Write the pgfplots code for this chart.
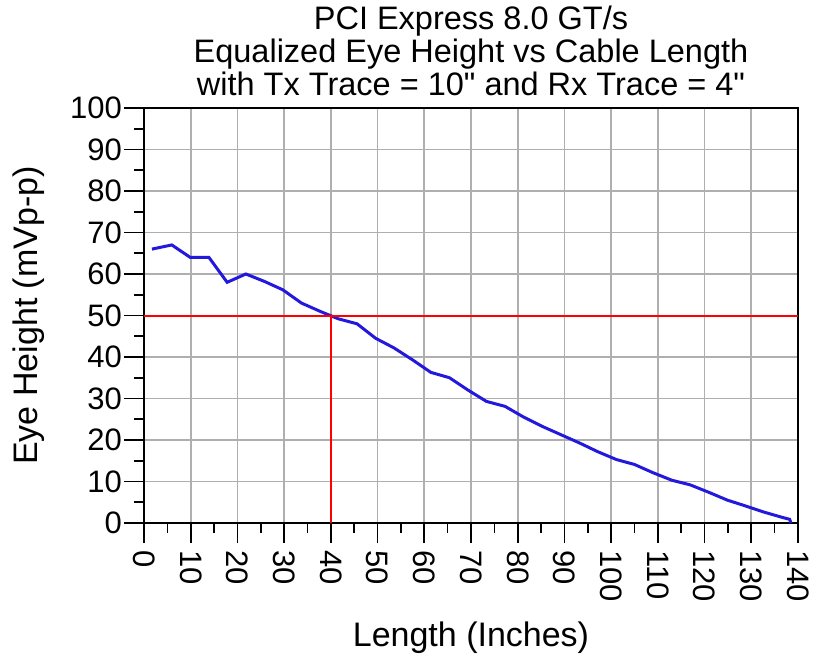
\documentclass[border=0pt]{standalone}
\usepackage{fontspec}
\setmainfont{Liberation Sans}[Ligatures=TeXOff]
\usepackage{pgfplots}
\pgfplotsset{compat=1.18}
\definecolor{eyeblue}{RGB}{35,25,220}
\definecolor{gridgray}{RGB}{175,175,175}
\definecolor{refred}{RGB}{255,0,0}
\begin{document}
\begin{tikzpicture}
\useasboundingbox (0pt,0pt) rectangle (814pt,662pt);
\begin{axis}[
  at={(144pt,139pt)}, anchor=south west,
  scale only axis, width=654pt, height=415pt,
  xmin=0, xmax=140, ymin=0, ymax=100,
  xtick={0,10,...,140}, ytick={0,10,...,100},
  minor x tick num=1, minor y tick num=1,
  grid=major, major grid style={gridgray, line width=1.6pt},
  tick align=outside, tick pos=left,
  major tick length=20pt, minor tick length=10pt,
  every tick/.style={black, line width=1.6pt},
  axis line style={black, line width=1.8pt},
  /pgf/number format/assume math mode=true,
  ticklabel style={font=\fontsize{31}{31}\selectfont},
  xticklabel style={rotate=-90, anchor=west, inner sep=1pt, xshift=6pt},
  yticklabel style={inner sep=2pt},
  xlabel={Length (Inches)}, ylabel={Eye Height (mVp-p)},
  label style={font=\fontsize{34}{34}\selectfont},
  xlabel style={at={(axis description cs:0.5,-0.277)}, anchor=center},
  ylabel style={at={(axis description cs:-0.176,0.5)}, anchor=center, rotate=0},
  title={PCI Express 8.0 GT/s\\Equalized Eye Height vs Cable Length\\with Tx Trace = 10" and Rx Trace = 4"},
  title style={font=\fontsize{32.5}{33}\selectfont, align=center, at={(axis description cs:0.5,1)}, anchor=south, inner sep=0pt, yshift=6pt},
]
\addplot[eyeblue, line width=3pt] coordinates {
(1.7,66) (5.95,67) (9.9,64) (13.9,64) (17.8,58) (21.8,60) (25.8,58.2) (29.7,56.2)
(33.7,53) (37.7,51) (41.6,49.2) (45.6,48) (49.6,44.5) (53.5,42.2) (57.5,39.3) (61.4,36.3)
(65.4,35) (69.4,32) (73.3,29.3) (77.3,28.1) (81.3,25.5) (85.2,23.3) (89.2,21.3) (93.2,19.3)
(97.1,17.2) (101.1,15.3) (105,14.1) (109,12.1) (113,10.3) (116.9,9.2) (120.9,7.4)
(124.9,5.5) (128.8,4.1) (132.8,2.6) (136.8,1.3) (138.2,0.9) (138.5,0)
};
\addplot[refred, line width=2pt] coordinates {(0,50) (140,50)};
\addplot[refred, line width=2pt] coordinates {(40,0) (40,50)};
\end{axis}
\end{tikzpicture}
\end{document}
